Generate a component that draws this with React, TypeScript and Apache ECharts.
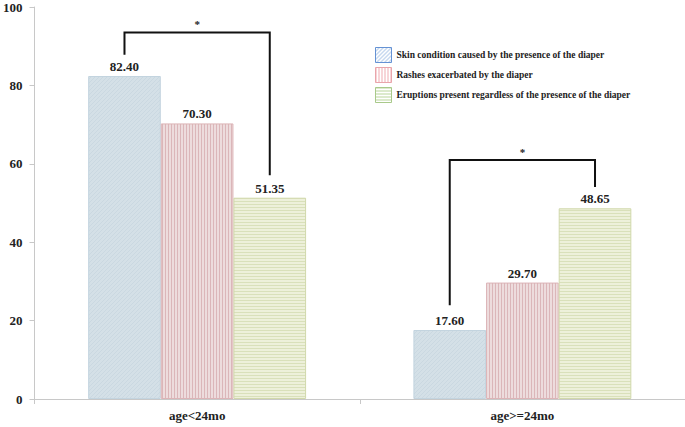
import React, { useEffect, useRef } from 'react';
import * as echarts from 'echarts';

const categories = ['age<24mo', 'age>=24mo'];
const seriesNames = [
  'Skin condition caused by the presence of the diaper',
  'Rashes exacerbated by the diaper',
  'Eruptions present regardless of the presence of the diaper',
];
const skinValues = [82.4, 17.6];
const rashValues = [70.3, 29.7];
const eruptionValues = [51.35, 48.65];

// significance brackets
const bracketCategory = [0, 1];
const bracketLeftSeries = [0, 0];
const bracketRightSeries = [2, 2];
const bracketTop = [93.5, 61.0];
const bracketLeftEnd = [87.8, 23.9];
const bracketRightEnd = [57.1, 54.1];
const bracketMark = ['*', '*'];

const FONT = 'Liberation Serif';

function makePattern(kind: string, base: string, stripe: string) {
  const size = kind === 'diag' ? 4 : 3;
  const c = document.createElement('canvas');
  c.width = size;
  c.height = size;
  const ctx = c.getContext('2d')!;
  ctx.fillStyle = base;
  ctx.fillRect(0, 0, size, size);
  ctx.fillStyle = stripe;
  if (kind === 'v') ctx.fillRect(0, 0, 1, size);
  else if (kind === 'h') ctx.fillRect(0, 0, size, 1);
  else {
    for (let i = 0; i < size; i++) ctx.fillRect(size - 1 - i, i, 1, 1);
  }
  return { image: c, repeat: 'repeat', imageWidth: size, imageHeight: size } as any;
}

export default function App() {
  const ref = useRef<HTMLDivElement>(null);
  useEffect(() => {
    if (!ref.current) return;
    const chart = echarts.init(ref.current, null, { renderer: 'svg' });

    const barFills = [
      makePattern('diag', '#d4e0e7', '#cad8e1'),
      makePattern('v', '#eddcdd', '#dbb6b9'),
      makePattern('h', '#edf0da', '#d9e0ba'),
    ];
    const barBorders = ['#c3d4df', '#dcb4b7', '#d0d8ab'];
    const legendFills = [
      makePattern('diag', '#ffffff', '#8fb2e0'),
      makePattern('v', '#ffffff', '#eeaab0'),
      makePattern('h', '#ffffff', '#b8d49a'),
    ];
    const legendBorders = ['#6592d4', '#e9a5ab', '#a9c98a'];
    const values = [skinValues, rashValues, eruptionValues];

    const option: any = {
      animation: false,
      textStyle: { fontFamily: FONT },
      grid: { left: 32, top: 7, width: 655, height: 392, containLabel: false },
      legend: {
        orient: 'vertical',
        left: 375,
        top: 47,
        padding: 0,
        itemWidth: 16,
        itemHeight: 15,
        itemGap: 4,
        icon: 'rect',
        textStyle: { fontFamily: FONT, fontSize: 9.5, fontWeight: 'bold', color: '#222' },
        data: seriesNames.map((n, i) => ({
          name: n,
          itemStyle: { color: legendFills[i], borderColor: legendBorders[i], borderWidth: 1 },
        })),
      },
      xAxis: {
        type: 'category',
        data: categories,
        axisLine: { lineStyle: { color: '#c8c8c8' } },
        axisTick: { show: true, length: 5, lineStyle: { color: '#c8c8c8' } },
        axisLabel: { fontFamily: FONT, fontSize: 13, fontWeight: 'bold', color: '#222', margin: 10 },
      },
      yAxis: {
        type: 'value',
        min: 0,
        max: 100,
        interval: 20,
        axisLine: { show: true, lineStyle: { color: '#c8c8c8' } },
        axisTick: { show: true, length: 5, lineStyle: { color: '#c8c8c8' } },
        splitLine: { show: false },
        axisLabel: { fontFamily: FONT, fontSize: 13, fontWeight: 'bold', color: '#222', margin: 12 },
      },
      series: seriesNames.map((n, i) => ({
        name: n,
        type: 'bar',
        data: values[i],
        barGap: '0%',
        barCategoryGap: '33%',
        itemStyle: { color: barFills[i], borderColor: barBorders[i], borderWidth: 1 },
        label: {
          show: true,
          position: 'top',
          distance: 3,
          formatter: (p: any) => Number(p.value).toFixed(2),
          fontFamily: FONT,
          fontSize: 13,
          fontWeight: 'bold',
          color: '#222',
        },
      })),
    };
    chart.setOption(option);

    const graphics: any[] = [];
    for (let i = 0; i < bracketCategory.length; i++) {
      const c = bracketCategory[i];
      const barCenter = (s: number) => {
        try {
          const lay = (chart as any).getModel().getSeriesByIndex(s).getData().getItemLayout(c);
          return lay.x + lay.width / 2;
        } catch (e) {
          const cx = chart.convertToPixel({ xAxisIndex: 0 }, c) as number;
          const bw = (655 / categories.length) * 0.67 / 3;
          return cx + (s - 1) * bw;
        }
      };
      const xL = barCenter(bracketLeftSeries[i]);
      const xR = barCenter(bracketRightSeries[i]);
      const yT = chart.convertToPixel({ yAxisIndex: 0 }, bracketTop[i]) as number;
      const yL = chart.convertToPixel({ yAxisIndex: 0 }, bracketLeftEnd[i]) as number;
      const yR = chart.convertToPixel({ yAxisIndex: 0 }, bracketRightEnd[i]) as number;
      graphics.push({
        type: 'polyline',
        shape: { points: [[xL, yL], [xL, yT], [xR, yT], [xR, yR]] },
        style: { stroke: '#111', lineWidth: 2, fill: null },
        z: 10,
      });
      graphics.push({
        type: 'text',
        x: (xL + xR) / 2,
        y: yT - 8,
        style: {
          text: bracketMark[i],
          fontFamily: FONT,
          fontSize: 11,
          fontWeight: 'bold',
          fill: '#222',
          textAlign: 'center',
          textVerticalAlign: 'middle',
        },
        z: 10,
      });
    }
    chart.setOption({ graphic: graphics });

    return () => chart.dispose();
  }, []);
  return (
    <div
      ref={ref}
      style={{ position: 'fixed', left: 0, top: 0, width: 685, height: 427, background: '#fff' }}
    />
  );
}
